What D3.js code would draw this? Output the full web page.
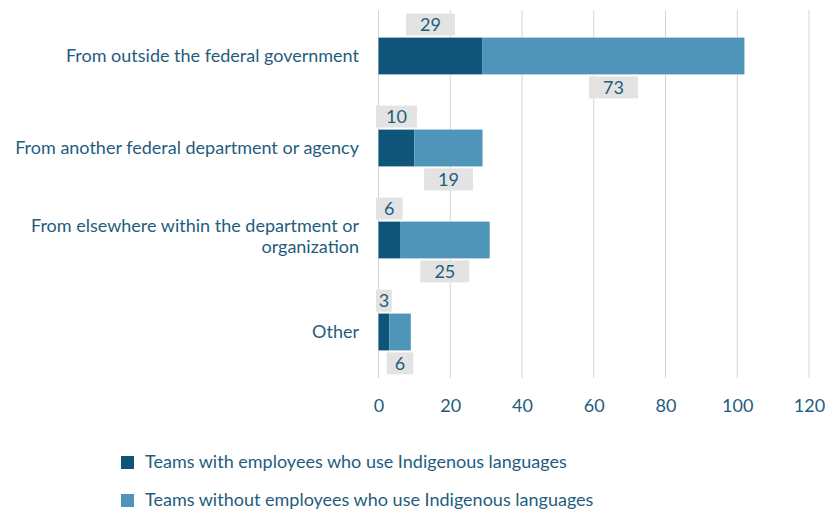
<!DOCTYPE html>
<html>
<head>
<meta charset="utf-8">
<script src="https://cdn.jsdelivr.net/npm/d3@7"></script>
<style>
  html, body { margin: 0; padding: 0; background: #ffffff; }
  svg { display: block; font-family: Lato, "Open Sans", sans-serif; }
</style>
</head>
<body>
<svg id="chart" width="827" height="512"></svg>
<script>
// Sources of recruitment, split by team composition
const categories = [
  ["From outside the federal government"],
  ["From another federal department or agency"],
  ["From elsewhere within the department or", "organization"],
  ["Other"]
];
const withIndigenous = [29, 10, 6, 3];
const withoutIndigenous = [73, 19, 25, 6];
const seriesNames = [
  "Teams with employees who use Indigenous languages",
  "Teams without employees who use Indigenous languages"
];
const xTicks = [0, 20, 40, 60, 80, 100, 120];

const colors = ["#0f5479", "#4f95b9"];
const textColor = "#1f5d7e";
const boxFill = "#e3e3e3";
const fontSize = 18;

const svg = d3.select("#chart");
const plotLeft = 378.5, plotRight = 809, plotTop = 10, plotBottom = 378;

const x = d3.scaleLinear().domain([0, 120]).range([plotLeft, plotRight]);
const y = d3.scaleBand()
  .domain(d3.range(categories.length))
  .range([plotTop, plotBottom])
  .paddingInner(0.6)
  .paddingOuter(0.3);

// vertical gridlines
svg.append("g").selectAll("line")
  .data(xTicks)
  .join("line")
  .attr("x1", d => x(d)).attr("x2", d => x(d))
  .attr("y1", plotTop).attr("y2", plotBottom)
  .attr("stroke", "#d4d4d4").attr("stroke-width", 1);

// x axis tick labels
const xAxis = d3.axisBottom(x).tickValues(xTicks).tickSize(0).tickPadding(0);
const gx = svg.append("g").attr("transform", `translate(0, ${plotBottom + 21})`).call(xAxis);
gx.select(".domain").remove();
gx.selectAll("text")
  .attr("fill", textColor)
  .attr("font-size", fontSize)
  .attr("font-family", "Lato, 'Open Sans', sans-serif");

// stacked data
const rows = categories.map((c, i) => ({
  i,
  segs: [
    { s: 0, v: withIndigenous[i], x0: 0, x1: withIndigenous[i] },
    { s: 1, v: withoutIndigenous[i], x0: withIndigenous[i], x1: withIndigenous[i] + withoutIndigenous[i] }
  ]
}));

const rowG = svg.append("g").selectAll("g")
  .data(rows)
  .join("g");

rowG.selectAll("rect.bar")
  .data(d => d.segs.map(s => ({ ...s, i: d.i })))
  .join("rect")
  .attr("class", "bar")
  .attr("x", d => x(d.x0))
  .attr("width", d => x(d.x1) - x(d.x0))
  .attr("y", d => y(d.i))
  .attr("height", y.bandwidth())
  .attr("fill", d => colors[d.s]);

// value labels in grey boxes: first series above, second below
const boxH = 22, gap = 2;
const labels = rowG.selectAll("g.lab")
  .data(d => d.segs.map(s => ({ ...s, i: d.i })))
  .join("g")
  .attr("class", "lab");

labels.each(function(d) {
  const g = d3.select(this);
  const segW = x(d.x1) - x(d.x0);
  const bw = Math.min(49, segW + 5);
  const cx = (x(d.x0) + x(d.x1)) / 2;
  const by = d.s === 0 ? y(d.i) - gap - boxH : y(d.i) + y.bandwidth() + gap;
  g.append("rect")
    .attr("x", cx - bw / 2).attr("y", by)
    .attr("width", bw).attr("height", boxH)
    .attr("fill", boxFill);
  g.append("text")
    .attr("x", cx).attr("y", by + boxH / 2)
    .attr("dy", "0.36em")
    .attr("text-anchor", "middle")
    .attr("font-size", fontSize)
    .attr("fill", textColor)
    .text(d.v);
});

// category labels (one text element per line)
const catLines = [];
categories.forEach((c, i) => {
  const cy = y(i) + y.bandwidth() / 2;
  const lh = 21;
  const start = cy - (c.length - 1) * lh / 2 - (c.length > 1 ? 4 : 0);
  c.forEach((line, k) => catLines.push({ line, yPos: start + k * lh }));
});
svg.append("g").selectAll("text")
  .data(catLines)
  .join("text")
  .attr("x", 359)
  .attr("y", d => d.yPos)
  .attr("dy", "0.36em")
  .attr("text-anchor", "end")
  .attr("font-size", fontSize)
  .attr("fill", textColor)
  .text(d => d.line);

// legend
const leg = svg.append("g").selectAll("g")
  .data(seriesNames.map((n, i) => ({ n, i })))
  .join("g")
  .attr("transform", d => `translate(121, ${456 + d.i * 38})`);
leg.append("rect")
  .attr("width", 13).attr("height", 13)
  .attr("fill", d => colors[d.i]);
leg.append("text")
  .attr("x", 24).attr("y", 6)
  .attr("dy", "0.36em")
  .attr("font-size", fontSize)
  .attr("fill", textColor)
  .text(d => d.n);
</script>
</body>
</html>
